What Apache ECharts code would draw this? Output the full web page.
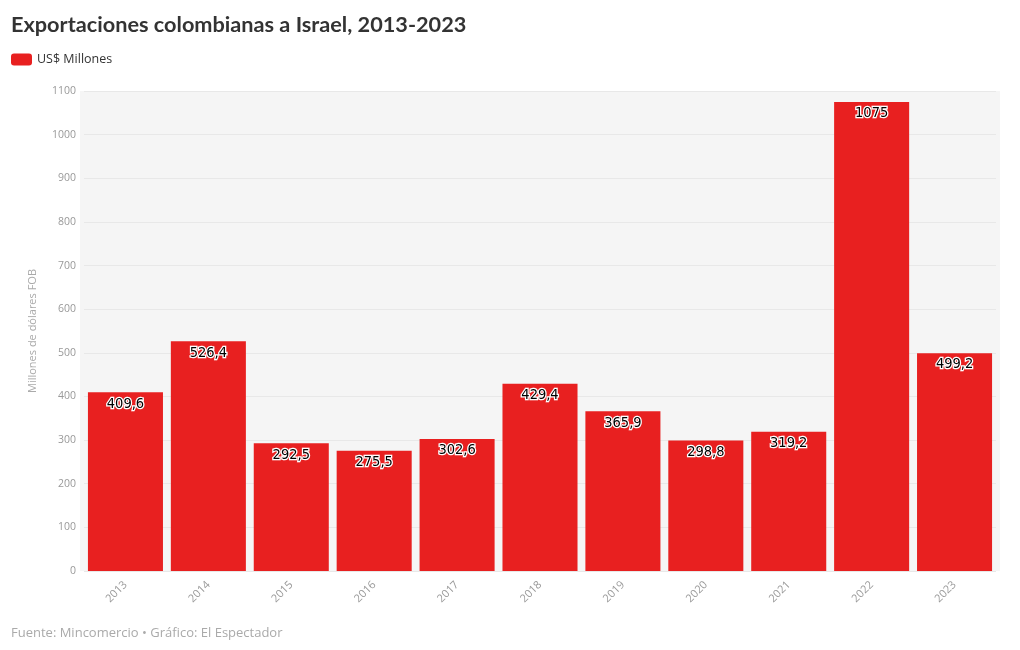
<!DOCTYPE html>
<html><head><meta charset="utf-8">
<script src="https://cdn.jsdelivr.net/npm/echarts@6/dist/echarts.min.js"></script>
<style>html,body{margin:0;padding:0;background:#fff}#c{width:1020px;height:650px}</style>
</head><body><div id="c"></div>
<script>
const categories = ['2013','2014','2015','2016','2017','2018','2019','2020','2021','2022','2023'];
const values = [409.6, 526.4, 292.5, 275.5, 302.6, 429.4, 365.9, 298.8, 319.2, 1075, 499.2];
const seriesName = 'US$ Millones';
const yTicks = [0,100,200,300,400,500,600,700,800,900,1000,1100];

const chart = echarts.init(document.getElementById('c'));
chart.setOption({
  animation: false,
  backgroundColor: '#ffffff',
  title: {
    text: 'Exportaciones colombianas a Israel, 2013-2023',
    left: 6, top: 9,
    textStyle: {fontFamily: 'Lato', fontWeight: 'bold', fontSize: 21.7, color: '#333333'}
  },
  legend: {
    data: [seriesName], left: 6, top: 48,
    itemWidth: 21, itemHeight: 12, itemGap: 5,
    icon: 'roundRect',
    textStyle: {fontFamily: 'Open Sans', fontSize: 12.5, color: '#333333'}
  },
  graphic: [
    {type: 'rect', left: 80, top: 91, z: -10, silent: true,
     shape: {width: 920, height: 480}, style: {fill: '#f5f5f5'}},
    {type: 'text', left: 11, top: 627,
     style: {text: 'Fuente: Mincomercio • Gráfico: El Espectador', fontFamily: 'Open Sans', fontSize: 13, fill: '#aaaaaa'}}
  ],
  grid: {left: 84, right: 24, top: 91, bottom: 79, show: false},
  xAxis: {
    type: 'category', data: categories,
    axisLine: {show: false}, axisTick: {show: false},
    axisLabel: {rotate: 45, color: '#999999', fontFamily: 'Open Sans', fontSize: 11, margin: 12}
  },
  yAxis: {
    type: 'value', min: 0, max: yTicks[yTicks.length-1], interval: 100,
    name: 'Millones de dólares FOB', nameLocation: 'middle', nameGap: 46,
    nameTextStyle: {color: '#aaaaaa', fontFamily: 'Open Sans', fontSize: 11},
    axisLine: {show: false}, axisTick: {show: false},
    axisLabel: {color: '#999999', fontFamily: 'Open Sans', fontSize: 10.5, margin: 8, formatter: v => String(v)},
    splitLine: {lineStyle: {color: '#e8e8e8', width: 1}}
  },
  series: [{
    name: seriesName, type: 'bar', data: values,
    barCategoryGap: '9.5%',
    itemStyle: {color: '#e82020'},
    label: {
      show: true, position: 'insideTop', distance: 4,
      formatter: p => String(p.value).replace('.', ','),
      fontFamily: 'DejaVu Sans Condensed', fontSize: 14.5, color: '#000000',
      textBorderColor: '#ffffff', textBorderWidth: 2.5
    }
  }]
});
</script></body></html>
